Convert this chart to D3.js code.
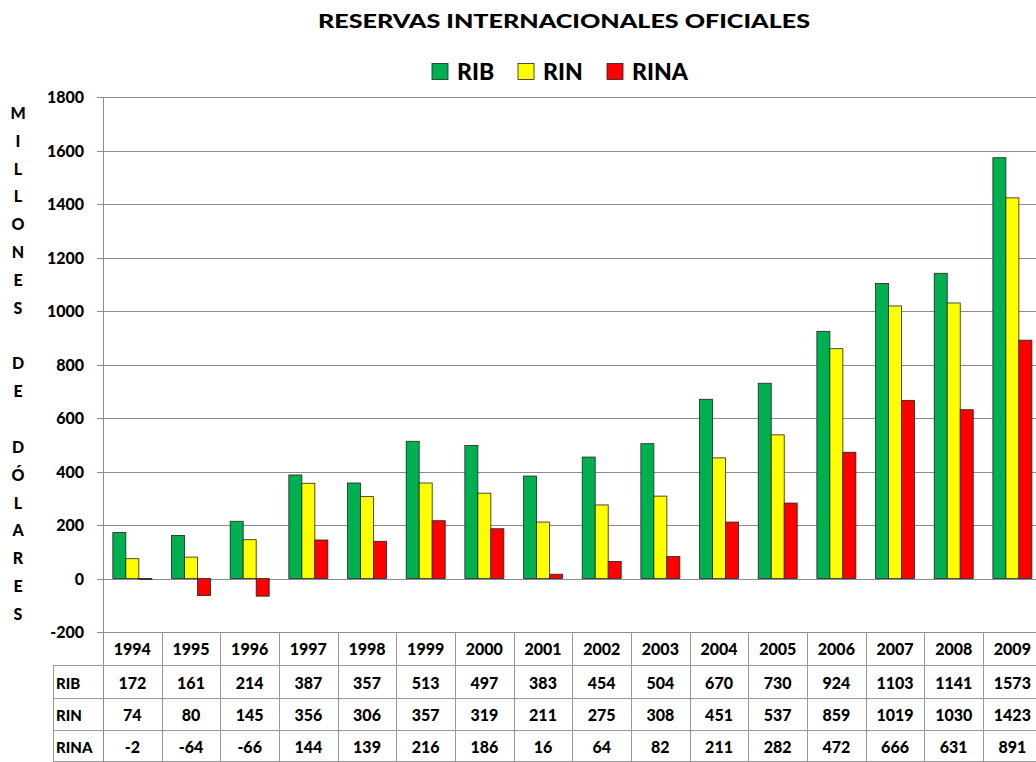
<!DOCTYPE html>
<html><head><meta charset="utf-8">
<script src="https://cdn.jsdelivr.net/npm/d3@7"></script>
<style>body{margin:0;background:#fff}svg{display:block}text{font-family:Lato,"Open Sans",sans-serif;font-weight:900;fill:#000}</style>
</head><body>
<script>
const years = ["1994","1995","1996","1997","1998","1999","2000","2001","2002","2003","2004","2005","2006","2007","2008","2009"];
const rib  = [172,161,214,387,357,513,497,383,454,504,670,730,924,1103,1141,1573];
const rin  = [74,80,145,356,306,357,319,211,275,308,451,537,859,1019,1030,1423];
const rina = [-2,-64,-66,144,139,216,186,16,64,82,211,282,472,666,631,891];
const seriesNames = ["RIB","RIN","RINA"];
const seriesColors = ["#00B050","#FFFF00","#FF0000"];
const yTicks = [-200,0,200,400,600,800,1000,1200,1400,1600,1800];
const axisTitle = "MILLONES DE DÓLARES";
const title = "RESERVAS INTERNACIONALES OFICIALES";

const W=1036,H=762;
const svg=d3.select("body").append("svg").attr("width",W).attr("height",H);
const left=103, catW=58.67, right=left+catW*years.length;
const x=d3.scaleBand().domain(years).range([left,right]).paddingInner(0).paddingOuter(0);
const y=d3.scaleLinear().domain([-200,1800]).range([632,97]);
const series=[rib,rin,rina];
const xs=d3.scaleBand().domain(seriesNames).range([0,39]);

// gridlines
svg.append("g").selectAll("line").data(yTicks).join("line")
  .attr("x1",97).attr("x2",W).attr("y1",d=>Math.round(y(d))+0.5).attr("y2",d=>Math.round(y(d))+0.5)
  .attr("stroke","#8c8c8c").attr("stroke-width",1);
// y axis line
svg.append("line").attr("x1",left+0.5).attr("x2",left+0.5).attr("y1",97).attr("y2",762).attr("stroke","#8c8c8c");
// y tick labels
svg.append("g").selectAll("text").data(yTicks).join("text")
  .attr("x",84).attr("y",d=>y(d)+6).attr("text-anchor","end").attr("font-size",16).text(d=>d);

// bars
series.forEach((vals,si)=>{
  svg.append("g").selectAll("rect").data(vals).join("rect")
    .attr("x",(d,i)=>x(years[i])+(catW-39)/2+xs(seriesNames[si]))
    .attr("width",xs.bandwidth())
    .attr("y",d=>y(Math.max(0,d)))
    .attr("height",d=>Math.max(1,Math.abs(y(d)-y(0))))
    .attr("fill",seriesColors[si]).attr("stroke","#222").attr("stroke-width",0.8);
});

// table
const rowTops=[632,666,699,731,762];
const tg=svg.append("g");
tg.selectAll("line.h").data(rowTops.slice(1)).join("line").attr("class","h")
  .attr("x1",53).attr("x2",W).attr("y1",d=>d-0.5).attr("y2",d=>d-0.5).attr("stroke","#999");
const vx=years.map((d,i)=>x(d)+catW);
tg.selectAll("line.v").data(vx).join("line").attr("class","v")
  .attr("x1",d=>Math.round(d)+0.5).attr("x2",d=>Math.round(d)+0.5).attr("y1",632).attr("y2",762).attr("stroke","#999");
tg.append("line").attr("x1",53.5).attr("x2",53.5).attr("y1",666).attr("y2",762).attr("stroke","#999");
tg.selectAll("text.yr").data(years).join("text").attr("class","yr")
  .attr("x",d=>x(d)+catW/2).attr("y",655).attr("text-anchor","middle").attr("font-size",16).text(d=>d);
series.forEach((vals,si)=>{
  const cy=(rowTops[si+1]+rowTops[si+2])/2+6;
  tg.append("text").attr("x",56).attr("y",cy).attr("font-size",15).text(seriesNames[si]);
  tg.selectAll("text.v"+si).data(vals).join("text").attr("class","v"+si)
    .attr("x",(d,i)=>x(years[i])+catW/2).attr("y",cy).attr("text-anchor","middle").attr("font-size",16).text(d=>d);
});

// title
svg.append("text").attr("x",564).attr("y",28).attr("text-anchor","middle").attr("font-size",19)
  .attr("textLength",492).attr("lengthAdjust","spacingAndGlyphs").text(title);

// legend
const legX=[432,518,607];
seriesNames.forEach((n,i)=>{
  svg.append("rect").attr("x",legX[i]).attr("y",63.5).attr("width",16).attr("height",16)
    .attr("fill",seriesColors[i]).attr("stroke","#222").attr("stroke-width",0.8);
  svg.append("text").attr("x",legX[i]+25).attr("y",80).attr("font-size",23).text(n);
});

// vertical axis title
const chars=Array.from(axisTitle);
svg.append("g").selectAll("text").data(chars).join("text")
  .attr("x",18).attr("y",(d,i)=>113+6+i*27.83).attr("text-anchor","middle").attr("font-size",16).text(d=>d===" "?"":d);
</script>
</body></html>
